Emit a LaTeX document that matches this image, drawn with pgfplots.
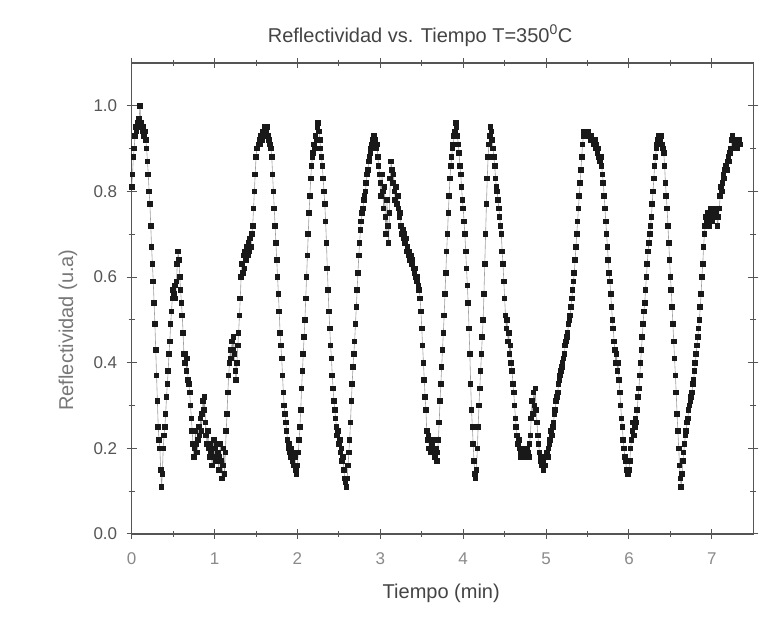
\documentclass[border=0pt]{standalone}
\usepackage{fontspec}
\setmainfont{Liberation Sans}
\usepackage{pgfplots}
\pgfplotsset{compat=1.18}
\definecolor{axc}{HTML}{555555}
\definecolor{ylab}{HTML}{777777}
\definecolor{xtl}{HTML}{8A8A8A}
\definecolor{ytl}{HTML}{555555}
\definecolor{ttl}{HTML}{444444}
\begin{document}
\begin{tikzpicture}
\path[use as bounding box, fill=white] (0,0) rectangle (768pt,623pt);
\begin{axis}[
  at={(131.7pt,89pt)}, anchor=south west,
  scale only axis, width=621.6pt, height=471pt,
  xmin=0, xmax=7.5, ymin=0, ymax=1.1,
  xtick={0,1,2,3,4,5,6,7}, minor x tick num=1,
  ytick={0,0.2,0.4,0.6,0.8,1.0}, minor y tick num=1,
  tick align=center,
  major tick length=10pt, minor tick length=6pt,
  every tick/.style={axc, line width=1pt},
  axis line style={axc, line width=1.3pt},
  /pgf/number format/assume math mode=true,
  yticklabel style={/pgf/number format/fixed, /pgf/number format/fixed zerofill, /pgf/number format/precision=1, text=ytl, xshift=-6pt},
  xticklabel style={text=xtl, yshift=-10pt},
  tick label style={font=\fontsize{17}{20}\selectfont},
  title={Reflectividad vs. Tiempo T=350\textsuperscript{0}C},
  title style={at={(axis description cs:0.464,1.0318)}, anchor=base, font=\fontsize{20}{24}\selectfont, text=ttl},
  xlabel={Tiempo (min)},
  xlabel style={at={(axis description cs:0.498,-0.1253)}, anchor=center, font=\fontsize{20}{24}\selectfont, text=ttl},
  ylabel={Reflectividad (u.a)},
  ylabel style={at={(axis description cs:-0.1025,0.433)}, anchor=center, font=\fontsize{20}{24}\selectfont, text=ylab},
]
\addplot[color=gray!75, line width=0.6pt, mark=square*, mark size=2.3pt, mark options={fill=black!90, draw=black!90, line width=0pt}] coordinates {
(0.00,0.81)(0.01,0.84)(0.02,0.88)(0.03,0.90)(0.04,0.93)(0.05,0.95)(0.06,0.94)(0.07,0.96)(0.08,0.95)(0.09,0.97)
(0.10,1.00)(0.11,0.96)(0.12,0.95)(0.13,0.94)(0.14,0.95)(0.15,0.93)(0.16,0.94)(0.17,0.92)(0.18,0.90)(0.19,0.87)
(0.20,0.84)(0.21,0.80)(0.22,0.77)(0.23,0.72)(0.24,0.67)(0.25,0.63)(0.26,0.59)(0.27,0.54)(0.28,0.49)(0.29,0.43)
(0.30,0.37)(0.31,0.31)(0.32,0.25)(0.33,0.22)(0.34,0.20)(0.35,0.15)(0.36,0.11)(0.37,0.14)(0.38,0.20)(0.39,0.23)
(0.40,0.25)(0.41,0.28)(0.42,0.32)(0.43,0.35)(0.44,0.38)(0.45,0.42)(0.46,0.45)(0.47,0.49)(0.48,0.52)(0.49,0.55)
(0.50,0.57)(0.51,0.56)(0.52,0.58)(0.53,0.55)(0.54,0.59)(0.55,0.63)(0.56,0.66)(0.57,0.64)(0.58,0.60)(0.59,0.57)
(0.60,0.54)(0.61,0.51)(0.62,0.47)(0.63,0.42)(0.64,0.40)(0.65,0.42)(0.66,0.38)(0.67,0.41)(0.68,0.36)(0.69,0.35)
(0.70,0.33)(0.71,0.30)(0.72,0.27)(0.73,0.24)(0.74,0.21)(0.75,0.18)(0.76,0.20)(0.77,0.24)(0.78,0.21)(0.79,0.19)
(0.80,0.22)(0.81,0.25)(0.82,0.23)(0.83,0.27)(0.84,0.24)(0.85,0.28)(0.86,0.31)(0.87,0.29)(0.88,0.32)(0.89,0.26)
(0.90,0.23)(0.91,0.21)(0.92,0.24)(0.93,0.20)(0.94,0.18)(0.95,0.21)(0.96,0.19)(0.97,0.16)(0.98,0.20)(0.99,0.22)
(1.00,0.18)(1.01,0.20)(1.02,0.17)(1.03,0.21)(1.04,0.19)(1.05,0.15)(1.06,0.18)(1.07,0.21)(1.08,0.17)(1.09,0.13)
(1.10,0.16)(1.11,0.20)(1.12,0.14)(1.13,0.19)(1.14,0.24)(1.15,0.28)(1.16,0.33)(1.17,0.37)(1.18,0.40)(1.19,0.43)
(1.20,0.41)(1.21,0.45)(1.22,0.43)(1.23,0.46)(1.24,0.42)(1.25,0.38)(1.26,0.36)(1.27,0.40)(1.28,0.44)(1.29,0.47)
(1.30,0.51)(1.31,0.55)(1.32,0.60)(1.33,0.63)(1.34,0.61)(1.35,0.65)(1.36,0.62)(1.37,0.66)(1.38,0.64)(1.39,0.67)
(1.40,0.65)(1.41,0.68)(1.42,0.66)(1.43,0.69)(1.44,0.67)(1.45,0.70)(1.46,0.72)(1.47,0.76)(1.48,0.80)(1.49,0.84)
(1.50,0.88)(1.51,0.90)(1.52,0.90)(1.53,0.91)(1.54,0.92)(1.55,0.91)(1.56,0.93)(1.57,0.92)(1.58,0.94)(1.59,0.93)
(1.60,0.95)(1.61,0.95)(1.62,0.94)(1.63,0.95)(1.64,0.93)(1.65,0.93)(1.66,0.92)(1.67,0.91)(1.68,0.90)(1.69,0.88)
(1.70,0.84)(1.71,0.80)(1.72,0.76)(1.73,0.72)(1.74,0.68)(1.75,0.64)(1.76,0.60)(1.77,0.56)(1.78,0.52)(1.79,0.47)
(1.80,0.44)(1.81,0.41)(1.82,0.37)(1.83,0.33)(1.84,0.30)(1.85,0.28)(1.86,0.26)(1.87,0.24)(1.88,0.22)(1.89,0.20)
(1.90,0.21)(1.91,0.19)(1.92,0.18)(1.93,0.20)(1.94,0.17)(1.95,0.19)(1.96,0.16)(1.97,0.18)(1.98,0.15)(1.99,0.14)
(2.00,0.16)(2.01,0.19)(2.02,0.22)(2.03,0.25)(2.04,0.29)(2.05,0.34)(2.06,0.38)(2.07,0.42)(2.08,0.46)(2.09,0.50)
(2.10,0.55)(2.11,0.60)(2.12,0.65)(2.13,0.70)(2.14,0.75)(2.15,0.79)(2.16,0.83)(2.17,0.86)(2.18,0.88)(2.19,0.89)
(2.20,0.91)(2.21,0.90)(2.22,0.93)(2.23,0.92)(2.24,0.95)(2.25,0.96)(2.26,0.94)(2.27,0.92)(2.28,0.90)(2.29,0.88)
(2.30,0.86)(2.31,0.83)(2.32,0.80)(2.33,0.77)(2.34,0.73)(2.35,0.68)(2.36,0.62)(2.37,0.57)(2.38,0.52)(2.39,0.48)
(2.40,0.44)(2.41,0.41)(2.42,0.37)(2.43,0.34)(2.44,0.31)(2.45,0.29)(2.46,0.27)(2.47,0.25)(2.48,0.23)(2.49,0.24)
(2.50,0.21)(2.51,0.22)(2.52,0.19)(2.53,0.20)(2.54,0.17)(2.55,0.18)(2.56,0.15)(2.57,0.13)(2.58,0.12)(2.59,0.11)
(2.60,0.13)(2.61,0.16)(2.62,0.19)(2.63,0.22)(2.64,0.26)(2.65,0.31)(2.66,0.35)(2.67,0.39)(2.68,0.42)(2.69,0.45)
(2.70,0.49)(2.71,0.53)(2.72,0.57)(2.73,0.61)(2.74,0.65)(2.75,0.68)(2.76,0.71)(2.77,0.73)(2.78,0.75)(2.79,0.76)
(2.80,0.78)(2.81,0.79)(2.82,0.80)(2.83,0.82)(2.84,0.84)(2.85,0.85)(2.86,0.87)(2.87,0.88)(2.88,0.89)(2.89,0.90)
(2.90,0.91)(2.91,0.92)(2.92,0.93)(2.93,0.93)(2.94,0.92)(2.95,0.90)(2.96,0.91)(2.97,0.88)(2.98,0.86)(2.99,0.84)
(3.00,0.82)(3.01,0.79)(3.02,0.84)(3.03,0.80)(3.04,0.76)(3.05,0.81)(3.06,0.74)(3.07,0.70)(3.08,0.78)(3.09,0.72)
(3.10,0.68)(3.11,0.75)(3.12,0.83)(3.13,0.87)(3.14,0.85)(3.15,0.82)(3.16,0.84)(3.17,0.80)(3.18,0.78)(3.19,0.81)
(3.20,0.77)(3.21,0.79)(3.22,0.76)(3.23,0.74)(3.24,0.75)(3.25,0.72)(3.26,0.70)(3.27,0.71)(3.28,0.69)(3.29,0.70)
(3.30,0.68)(3.31,0.69)(3.32,0.66)(3.33,0.67)(3.34,0.65)(3.35,0.66)(3.36,0.64)(3.37,0.65)(3.38,0.63)(3.39,0.64)
(3.40,0.62)(3.41,0.61)(3.42,0.62)(3.43,0.60)(3.44,0.59)(3.45,0.60)(3.46,0.58)(3.47,0.57)(3.48,0.55)(3.49,0.52)
(3.50,0.48)(3.51,0.44)(3.52,0.40)(3.53,0.36)(3.54,0.32)(3.55,0.29)(3.56,0.24)(3.57,0.22)(3.58,0.23)(3.59,0.20)
(3.60,0.22)(3.61,0.19)(3.62,0.21)(3.63,0.20)(3.64,0.22)(3.65,0.19)(3.66,0.18)(3.67,0.20)(3.68,0.17)(3.69,0.19)
(3.70,0.22)(3.71,0.26)(3.72,0.31)(3.73,0.35)(3.74,0.39)(3.75,0.43)(3.76,0.47)(3.77,0.51)(3.78,0.56)(3.79,0.61)
(3.80,0.66)(3.81,0.70)(3.82,0.75)(3.83,0.79)(3.84,0.83)(3.85,0.86)(3.86,0.88)(3.87,0.90)(3.88,0.91)(3.89,0.93)
(3.90,0.94)(3.91,0.96)(3.92,0.95)(3.93,0.93)(3.94,0.91)(3.95,0.89)(3.96,0.86)(3.97,0.84)(3.98,0.81)(3.99,0.78)
(4.00,0.76)(4.01,0.73)(4.02,0.70)(4.03,0.66)(4.04,0.62)(4.05,0.58)(4.06,0.54)(4.07,0.48)(4.08,0.42)(4.09,0.35)
(4.10,0.29)(4.11,0.25)(4.12,0.21)(4.13,0.17)(4.14,0.14)(4.15,0.13)(4.16,0.15)(4.17,0.20)(4.18,0.25)(4.19,0.30)
(4.20,0.34)(4.21,0.38)(4.22,0.42)(4.23,0.46)(4.24,0.50)(4.25,0.56)(4.26,0.63)(4.27,0.70)(4.28,0.77)(4.29,0.83)
(4.30,0.88)(4.31,0.91)(4.32,0.93)(4.33,0.95)(4.34,0.94)(4.35,0.92)(4.36,0.90)(4.37,0.88)(4.38,0.86)(4.39,0.83)
(4.40,0.81)(4.41,0.80)(4.42,0.78)(4.43,0.76)(4.44,0.74)(4.45,0.72)(4.46,0.70)(4.47,0.66)(4.48,0.63)(4.49,0.59)
(4.50,0.55)(4.51,0.51)(4.52,0.48)(4.53,0.50)(4.54,0.45)(4.55,0.47)(4.56,0.42)(4.57,0.44)(4.58,0.40)(4.59,0.38)
(4.60,0.35)(4.61,0.33)(4.62,0.30)(4.63,0.27)(4.64,0.25)(4.65,0.23)(4.66,0.21)(4.67,0.22)(4.68,0.20)(4.69,0.19)
(4.70,0.18)(4.71,0.19)(4.72,0.18)(4.73,0.20)(4.74,0.18)(4.75,0.19)(4.76,0.18)(4.77,0.20)(4.78,0.19)(4.79,0.18)
(4.80,0.21)(4.81,0.23)(4.82,0.27)(4.83,0.31)(4.84,0.28)(4.85,0.33)(4.86,0.30)(4.87,0.34)(4.88,0.29)(4.89,0.26)
(4.90,0.23)(4.91,0.21)(4.92,0.19)(4.93,0.18)(4.94,0.17)(4.95,0.16)(4.96,0.17)(4.97,0.15)(4.98,0.16)(4.99,0.16)
(5.00,0.18)(5.01,0.19)(5.02,0.18)(5.03,0.20)(5.04,0.21)(5.05,0.22)(5.06,0.24)(5.07,0.23)(5.08,0.25)(5.09,0.26)
(5.10,0.28)(5.11,0.29)(5.12,0.31)(5.13,0.32)(5.14,0.33)(5.15,0.35)(5.16,0.36)(5.17,0.37)(5.18,0.38)(5.19,0.39)
(5.20,0.40)(5.21,0.41)(5.22,0.42)(5.23,0.44)(5.24,0.45)(5.25,0.46)(5.26,0.47)(5.27,0.49)(5.28,0.50)(5.29,0.51)
(5.30,0.53)(5.31,0.55)(5.32,0.57)(5.33,0.59)(5.34,0.61)(5.35,0.64)(5.36,0.67)(5.37,0.70)(5.38,0.73)(5.39,0.76)
(5.40,0.79)(5.41,0.82)(5.42,0.85)(5.43,0.88)(5.44,0.91)(5.45,0.93)(5.46,0.94)(5.47,0.93)(5.48,0.94)(5.49,0.94)
(5.50,0.93)(5.51,0.94)(5.52,0.93)(5.53,0.93)(5.54,0.92)(5.55,0.93)(5.56,0.92)(5.57,0.92)(5.58,0.91)(5.59,0.92)
(5.60,0.90)(5.61,0.91)(5.62,0.89)(5.63,0.90)(5.64,0.88)(5.65,0.87)(5.66,0.88)(5.67,0.86)(5.68,0.84)(5.69,0.82)
(5.70,0.79)(5.71,0.76)(5.72,0.73)(5.73,0.70)(5.74,0.67)(5.75,0.64)(5.76,0.61)(5.77,0.59)(5.78,0.56)(5.79,0.53)
(5.80,0.50)(5.81,0.48)(5.82,0.45)(5.83,0.43)(5.84,0.40)(5.85,0.42)(5.86,0.38)(5.87,0.40)(5.88,0.36)(5.89,0.33)
(5.90,0.30)(5.91,0.27)(5.92,0.25)(5.93,0.22)(5.94,0.20)(5.95,0.18)(5.96,0.17)(5.97,0.15)(5.98,0.14)(5.99,0.14)
(6.00,0.15)(6.01,0.17)(6.02,0.20)(6.03,0.22)(6.04,0.24)(6.05,0.26)(6.06,0.23)(6.07,0.25)(6.08,0.27)(6.09,0.26)
(6.10,0.29)(6.11,0.32)(6.12,0.34)(6.13,0.37)(6.14,0.40)(6.15,0.43)(6.16,0.46)(6.17,0.49)(6.18,0.52)(6.19,0.54)
(6.20,0.57)(6.21,0.60)(6.22,0.63)(6.23,0.66)(6.24,0.68)(6.25,0.70)(6.26,0.72)(6.27,0.74)(6.28,0.77)(6.29,0.80)
(6.30,0.83)(6.31,0.86)(6.32,0.88)(6.33,0.90)(6.34,0.91)(6.35,0.92)(6.36,0.93)(6.37,0.93)(6.38,0.92)(6.39,0.93)
(6.40,0.91)(6.41,0.90)(6.42,0.89)(6.43,0.86)(6.44,0.82)(6.45,0.79)(6.46,0.76)(6.47,0.72)(6.48,0.68)(6.49,0.64)
(6.50,0.60)(6.51,0.57)(6.52,0.53)(6.53,0.49)(6.54,0.45)(6.55,0.41)(6.56,0.37)(6.57,0.33)(6.58,0.28)(6.59,0.24)
(6.60,0.20)(6.61,0.16)(6.62,0.13)(6.63,0.11)(6.64,0.14)(6.65,0.17)(6.66,0.19)(6.67,0.21)(6.68,0.23)(6.69,0.24)
(6.70,0.26)(6.71,0.27)(6.72,0.29)(6.73,0.30)(6.74,0.31)(6.75,0.32)(6.76,0.33)(6.77,0.35)(6.78,0.36)(6.79,0.38)
(6.80,0.40)(6.81,0.42)(6.82,0.44)(6.83,0.46)(6.84,0.48)(6.85,0.50)(6.86,0.53)(6.87,0.56)(6.88,0.60)(6.89,0.63)
(6.90,0.67)(6.91,0.70)(6.92,0.72)(6.93,0.74)(6.94,0.73)(6.95,0.75)(6.96,0.74)(6.97,0.72)(6.98,0.74)(6.99,0.76)
(7.00,0.75)(7.01,0.73)(7.02,0.75)(7.03,0.74)(7.04,0.76)(7.05,0.75)(7.06,0.74)(7.07,0.72)(7.08,0.74)(7.09,0.76)
(7.10,0.79)(7.11,0.81)(7.12,0.80)(7.13,0.82)(7.14,0.84)(7.15,0.83)(7.16,0.85)(7.17,0.86)(7.18,0.85)(7.19,0.87)
(7.20,0.88)(7.21,0.87)(7.22,0.89)(7.23,0.90)(7.24,0.92)(7.25,0.93)(7.26,0.92)(7.27,0.90)(7.28,0.91)(7.29,0.92)
(7.30,0.91)(7.31,0.90)(7.32,0.91)(7.33,0.92)(7.34,0.91)
};
\end{axis}
\end{tikzpicture}
\end{document}
